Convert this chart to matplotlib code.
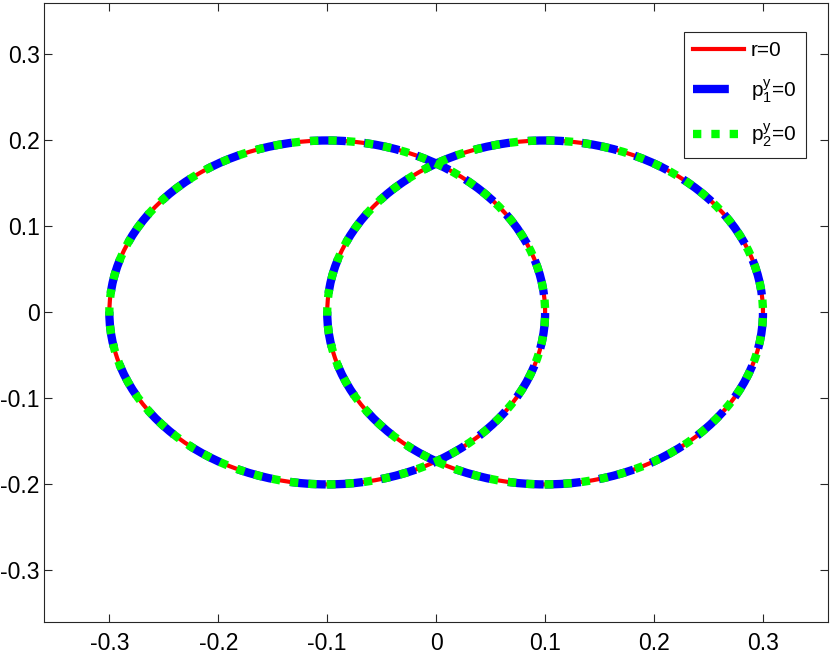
import matplotlib
matplotlib.use('Agg')
import matplotlib.pyplot as plt
from matplotlib.patches import Circle
from matplotlib.lines import Line2D

# two circles: centre and radius
cx = [-0.1, 0.1]
cy = [0.0, 0.0]
radius = [0.2, 0.2]

ticks = [-0.3, -0.2, -0.1, 0, 0.1, 0.2, 0.3]
tick_labels = ['-0.3', '-0.2', '-0.1', '0', '0.1', '0.2', '0.3']
labels = ['r=0', r'$\mathrm{p}_1^\mathrm{y}$=0', r'$\mathrm{p}_2^\mathrm{y}$=0']

plt.rcParams['font.family'] = ['Liberation Sans', 'DejaVu Sans']
plt.rcParams['mathtext.fontset'] = 'custom'
plt.rcParams['mathtext.rm'] = 'Liberation Sans'
plt.rcParams['mathtext.it'] = 'Liberation Sans'

fig = plt.figure(figsize=(8.3, 6.6), dpi=100)
ax = fig.add_axes([0.053, 0.0576, 0.945, 0.938])

styles = [
    dict(color='#ff0000', lw=3.0, ls='-'),
    dict(color='#0000ff', lw=6.0, ls=(0, (4.3, 2.2))),
    dict(color='#00ff00', lw=6.0, ls=(0, (1.0, 1.2))),
]

for st in styles:
    for x, y, r in zip(cx, cy, radius):
        c = Circle((x, y), r, fill=False, edgecolor=st['color'], linewidth=st['lw'],
                   linestyle=st['ls'])
        c.set_capstyle('butt')
        ax.add_patch(c)

ax.set_xlim(-0.36, 0.36)
ax.set_ylim(-0.36, 0.36)
ax.set_xticks(ticks)
ax.set_xticklabels(tick_labels)
ax.set_yticks(ticks)
ax.set_yticklabels(tick_labels)
ax.tick_params(direction='in', length=5.5, width=0.8, top=True, right=True,
               labelsize=16.5, colors='#262626', labelcolor='black')
ax.tick_params(axis='x', pad=7)
ax.tick_params(axis='y', pad=3)
for s in ax.spines.values():
    s.set_color('#262626')
    s.set_linewidth(0.8)

handles = [Line2D([], [], color=st['color'], lw=st['lw'], ls=st['ls'],
                  dash_capstyle='butt') for st in styles]
leg = ax.legend(handles, labels, loc='upper right', bbox_to_anchor=(0.971, 0.953),
                borderaxespad=0, fontsize=15, handlelength=2.45, handletextpad=0.3,
                borderpad=0.45, fancybox=False, framealpha=1, edgecolor='#262626',
                labelspacing=0.8)
leg.get_frame().set_linewidth(0.8)

plt.savefig('out.png', dpi=100)
